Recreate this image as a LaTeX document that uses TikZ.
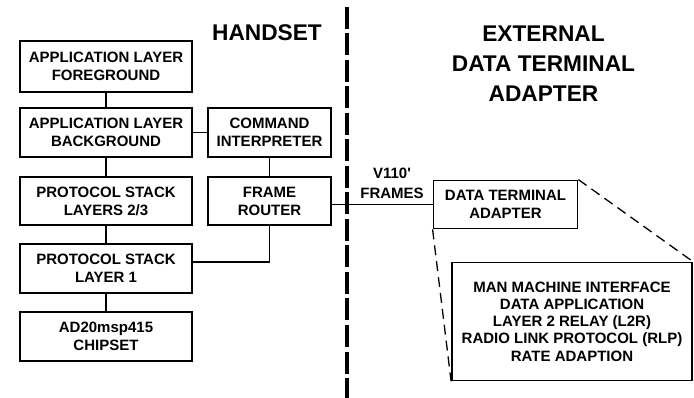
\documentclass[tikz,border=0pt]{standalone}
\usepackage{fontspec}
\setmainfont{Liberation Sans}
\newfontfamily\arial{Liberation Sans}
\usetikzlibrary{calc}

\begin{document}
\begin{tikzpicture}[x=1pt, y=-1pt,
    every node/.style={font=\arial\bfseries\fontsize{15}{18}\selectfont, align=center, inner sep=0pt},
    block/.style={draw, line width=1.8pt, minimum height=49pt},
    wire/.style={line width=1.8pt},
    zoomline/.style={line width=1.3pt, dash pattern=on 10pt off 6pt},
    border/.style={line width=3.5pt, dash pattern=on 22pt off 4.5pt},
    title/.style={font=\arial\bfseries\fontsize{22.7}{30}\selectfont}]
  \useasboundingbox (0,0) rectangle (694,398);
  \node[block, minimum width=172pt, minimum height=51pt] (a1) at (106,66.5) {APPLICATION LAYER\\FOREGROUND};
  \node[block, minimum width=172pt] at ($(a1) + (0,66)$) (a2) {APPLICATION LAYER\\BACKGROUND};
  \node[block, minimum width=172pt, minimum height=48pt] at ($(a2) + (0,68.5)$) (a3) {PROTOCOL STACK\\LAYERS 2/3};
  \node[block, minimum width=172pt] at ($(a3) + (0,67.5)$) (a4) {PROTOCOL STACK\\LAYER 1};
  \node[block, minimum width=172pt] at ($(a4) + (0,68)$) (a5) {AD20msp415\\CHIPSET};
  \node[block, minimum width=123pt] at ($(a2) + (163.5,0)$) (b1) {COMMAND\\INTERPRETER};
  \node[block, minimum width=123pt, minimum height=48pt] at ($(a3) + (163.5,0)$) (b2) {FRAME\\ROUTER};
  \node[block, minimum width=144pt, minimum height=48pt] (c1) at (505.5,204.5) {DATA TERMINAL\\ADAPTER};
  \node[block, minimum width=240pt, minimum height=118pt, font=\arial\bfseries\fontsize{15}{17.2}\selectfont] at ($(c1) + (66.5,117)$) (c2)
    {MAN MACHINE INTERFACE\\DATA APPLICATION\\LAYER 2 RELAY (L2R)\\RADIO LINK PROTOCOL (RLP)\\RATE ADAPTION};
  \node[title] (h1) at (267,33) {HANDSET};
  \node[title] (h2) at (543.5,63.3) {EXTERNAL\\DATA TERMINAL\\ADAPTER};
  \node[font=\arial\bfseries\fontsize{15}{20}\selectfont] (v1) at (392,183) {V110'\\FRAMES};
  \coordinate (t1) at (347,7);
  \coordinate (t2) at (347,398);
  % links
  \draw[wire] (a1.south) -- (a2.north);
  \draw[wire] (a2.south) -- (a3.north);
  \draw[wire] (a3.south) -- (a4.north);
  \draw[wire] (a4.south) -- (a5.north);
  \draw[wire] (a2.east) -- (b1.west);
  \draw[wire] (b1.south) -- (b2.north);
  \draw[wire] ([yshift=6.5pt]a4.east) -| (b2.south);
  \draw[wire] (b2.east |- c1.west) -- (c1.west);
  \draw[zoomline] (c1.north east) -- (c2.north east);
  \draw[zoomline] (c1.south west) -- (c2.south west);
  \draw[border] (t1) -- (t2);
\end{tikzpicture}
\end{document}
